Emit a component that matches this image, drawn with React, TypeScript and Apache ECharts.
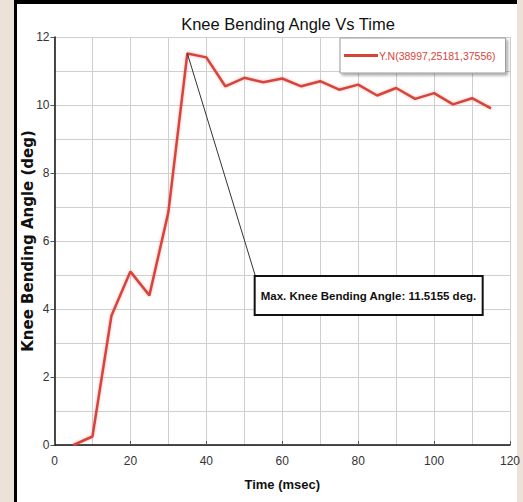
import React, { useEffect, useRef } from "react";
import * as echarts from "echarts";

const timeMs = [5, 10, 15, 20, 25, 30, 35, 40, 45, 50, 55, 60, 65, 70, 75, 80, 85, 90, 95, 100, 105, 110, 115];
const angleDeg = [0, 0.25, 3.8, 5.1, 4.4, 6.85, 11.5155, 11.4, 10.55, 10.8, 10.67, 10.78, 10.55, 10.7, 10.45, 10.6, 10.28, 10.5, 10.18, 10.35, 10.02, 10.2, 9.9];
const peakPoint = [35, 11.5155];
const annotationAnchor = [53, 4.94];
const seriesName = "Y.N(38997,25181,37556)";
const annotationText = "Max. Knee Bending Angle: 11.5155 deg.";

const NARROW = "'Liberation Sans Narrow', 'Liberation Sans', Arial, sans-serif";

export default function App() {
  const ref = useRef<HTMLDivElement>(null);
  useEffect(() => {
    if (!ref.current) return;
    const chart = echarts.init(ref.current, undefined, { renderer: "svg" });
    chart.setOption({
      animation: false,
      title: {
        text: "Knee Bending Angle Vs Time",
        left: 283,
        top: 10,
        textAlign: "center",
        textStyle: { fontFamily: NARROW, fontSize: 16.5, fontWeight: "normal", color: "#111" },
      },
      legend: {
        left: 340,
        top: 38,
        padding: [12, 10, 12, 4],
        icon: "rect",
        itemWidth: 34,
        itemHeight: 3,
        itemGap: 2,
        backgroundColor: "#fff",
        borderColor: "#999",
        borderWidth: 1,
        shadowColor: "rgba(0,0,0,0.35)",
        shadowBlur: 3,
        shadowOffsetX: 2,
        shadowOffsetY: 2,
        textStyle: { fontFamily: NARROW, fontSize: 10.5, color: "#d6453a", padding: [0, 0, 0, -4] },
      },
      grid: { left: 54.5, right: 10, top: 37, bottom: 57 },
      xAxis: {
        type: "value",
        min: 0,
        max: 120,
        interval: 20,
        name: "Time (msec)",
        nameLocation: "middle",
        nameGap: 33,
        nameMoveOverlap: false,
        nameTextStyle: { fontFamily: NARROW, fontSize: 13, fontWeight: "bold", color: "#111" },
        axisLine: { show: true, lineStyle: { color: "#111", width: 1.5 } },
        axisTick: { show: true, inside: true, length: 4, lineStyle: { color: "#555" } },
        axisLabel: { fontFamily: NARROW, fontSize: 12, color: "#333", margin: 10 },
        splitLine: { show: true, lineStyle: { color: "#cfcfcf", width: 1 } },
        minorTick: { show: false, splitNumber: 2 },
        minorSplitLine: { show: true, lineStyle: { color: "#cfcfcf", width: 1 } },
      },
      yAxis: {
        type: "value",
        min: 0,
        max: 12,
        interval: 2,
        name: "Knee Bending Angle (deg)",
        nameLocation: "middle",
        nameGap: 19,
        nameMoveOverlap: false,
        nameTextStyle: { fontFamily: "'DejaVu Sans', Verdana, sans-serif", fontSize: 15, fontWeight: "bold", color: "#111" },
        axisLine: { show: true, lineStyle: { color: "#111", width: 1.5 } },
        axisTick: { show: true, length: 4, lineStyle: { color: "#555" } },
        axisLabel: { fontFamily: NARROW, fontSize: 12, color: "#333", margin: 5 },
        splitLine: { show: true, lineStyle: { color: "#cfcfcf", width: 1 } },
        minorTick: { show: false, splitNumber: 2 },
        minorSplitLine: { show: true, lineStyle: { color: "#cfcfcf", width: 1 } },
      },
      series: [
        {
          name: seriesName,
          type: "line",
          data: timeMs.map((t, i) => [t, angleDeg[i]]),
          symbol: "none",
          color: "#d6453a",
          lineStyle: { color: "#d6453a", width: 2.5, shadowColor: "rgba(240,100,100,0.45)", shadowBlur: 3 },
          markLine: {
            silent: true,
            symbol: "none",
            label: { show: false },
            lineStyle: { color: "#333", width: 1, type: "solid" },
            data: [[{ coord: peakPoint }, { coord: annotationAnchor }]],
          },
          markPoint: {
            silent: true,
            symbol: "circle",
            symbolSize: 0,
            data: [{ coord: annotationAnchor }],
            label: {
              show: true,
              position: [0, 0],
              align: "left",
              verticalAlign: "top",
              formatter: annotationText,
              fontFamily: NARROW,
              fontSize: 11.5,
              fontWeight: "bold",
              color: "#111",
              backgroundColor: "#fff",
              borderColor: "#111",
              borderWidth: 2,
              padding: [13, 5, 12, 5],
            },
          },
        },
      ],
    });
    return () => chart.dispose();
  }, []);
  return (
    <div style={{ position: "fixed", left: 0, top: 0, width: 523, height: 502, background: "#ece2d8" }}>
      <div
        style={{
          position: "absolute",
          left: 14,
          top: 0,
          width: 503,
          height: 502,
          background: "#fff",
          borderLeft: "3px solid #000",
          borderTop: "4px solid #000",
          boxSizing: "border-box",
        }}
      />
      <div ref={ref} style={{ position: "absolute", left: 0, top: 0, width: 523, height: 502 }} />
    </div>
  );
}
